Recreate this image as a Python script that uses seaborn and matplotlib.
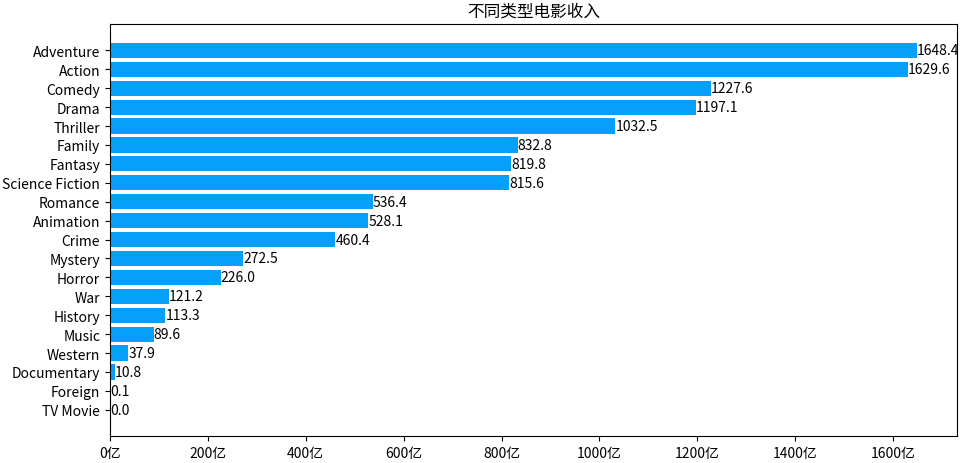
import matplotlib
matplotlib.use("Agg")
import matplotlib.pyplot as plt
import seaborn as sns
import pandas as pd
from matplotlib.ticker import FuncFormatter

genres = ["Adventure", "Action", "Comedy", "Drama", "Thriller", "Family", "Fantasy",
          "Science Fiction", "Romance", "Animation", "Crime", "Mystery", "Horror",
          "War", "History", "Music", "Western", "Documentary", "Foreign", "TV Movie"]
revenue = [1648.4, 1629.6, 1227.6, 1197.1, 1032.5, 832.8, 819.8, 815.6, 536.4, 528.1,
           460.4, 272.5, 226.0, 121.2, 113.3, 89.6, 37.9, 10.8, 0.1, 0.0]
xticks = [0, 200, 400, 600, 800, 1000, 1200, 1400, 1600]

plt.rcParams['font.family'] = ['Noto Sans CJK SC', 'DejaVu Sans']
plt.rcParams['axes.unicode_minus'] = False

df = pd.DataFrame({"genre": genres, "revenue": revenue})

fig, ax = plt.subplots(figsize=(9.64, 4.64), dpi=100)
sns.barplot(data=df, x="revenue", y="genre", orient="h", color="#06a0fa",
            saturation=1, width=0.8, ax=ax, order=genres)

for i, v in enumerate(revenue):
    ax.text(v, i, f"{v:.1f}", va="center", ha="left", fontsize=10, color="black")

n = len(genres)
span = (n - 1) + 0.8
ax.set_ylim(n - 1 + 0.4 + 0.05 * span, -0.4 - 0.05 * span)
ax.set_xlim(0, max(revenue) * 1.05)
ax.set_xticks(xticks)
ax.xaxis.set_major_formatter(FuncFormatter(lambda x, p: f"{int(x)}亿"))
ax.set_xlabel("")
ax.set_ylabel("")
ax.tick_params(labelsize=10)
ax.set_title("不同类型电影收入", fontsize=12)
for s in ax.spines.values():
    s.set_visible(True)
    s.set_color("black")
    s.set_linewidth(0.8)

fig.subplots_adjust(left=0.114, right=0.993, top=0.946, bottom=0.058)
fig.savefig("out.png", dpi=100)
